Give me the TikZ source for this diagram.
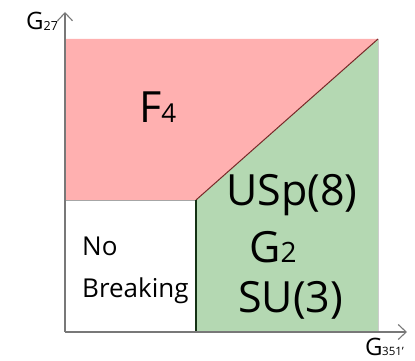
\documentclass[tikz,border=0pt]{standalone}
\usepackage{fontspec}
\setmainfont{Open Sans}
\usetikzlibrary{arrows.meta}
\definecolor{pinkreg}{RGB}{255,176,176}
\definecolor{greenreg}{RGB}{180,216,178}
\definecolor{axisgray}{RGB}{120,120,120}
\definecolor{diagred}{RGB}{120,40,40}
\definecolor{edgegreen}{RGB}{20,50,20}
\newcommand{\subtxt}[2]{\raisebox{-0.5pt}{\fontsize{#1}{#1}\selectfont #2}}
\tikzset{
  axisline/.style={draw=axisgray, line width=1.4pt, -{Straight Barb[length=8pt,width=15pt,line width=1.1pt]}},
  big/.style={font=\fontsize{43}{46}\selectfont, inner sep=0pt, anchor=base west},
  mid/.style={font=\fontsize{26}{30}\selectfont, inner sep=0pt, anchor=base west},
  axlab/.style={font=\fontsize{24}{28}\selectfont, inner sep=0pt, anchor=base west},
}
\begin{document}
\begin{tikzpicture}[x=1pt,y=-1pt]
\useasboundingbox (0,0) rectangle (415,361);
\coordinate (O) at (65,332);
\coordinate (ytip) at (65,12);
\coordinate (xtip) at (407,332);
\coordinate (TL) at (65,39);
\coordinate (TR) at (378,39);
\coordinate (BR) at (378,332);
\coordinate (K) at (196,200);
\coordinate (KB) at (196,332);
\coordinate (L) at (65,200);
% regions
\fill[pinkreg] (TL) -- (TR) -- (K) -- (L) -- cycle;
\fill[greenreg] (TR) -- (BR) -- (KB) -- (K) -- cycle;
\draw[draw=black!35, line width=0.5pt] (L) -- (K);
\draw[draw=black!20, line width=0.5pt] (TR) -- (BR);
\draw[draw=diagred, line width=1pt] (K) -- (TR);
\draw[draw=edgegreen, line width=1.2pt] (K) -- (KB);
% axes
\draw[axisline] (O) -- (ytip);
\draw[axisline] (O) -- (xtip);
% labels
\node[axlab] (g27) at (26,30) {G\subtxt{12.5}{27}};
\node[axlab] (g351) at (365,355) {G\kern-0.5pt\subtxt{11.5}{351'}};
\node[big] (f4) at (139,122) {F\subtxt{26}{4}};
\node[big] (usp) at (226,205) {USp(8)};
\node[big] (g2) at (249,262) {G\subtxt{28}{2}};
\node[big] (su3) at (238,312) {SU(3)};
\node[mid] (no) at (82,255) {No};
\node[mid] (brk) at (82,297) {Breaking};
\end{tikzpicture}
\end{document}
